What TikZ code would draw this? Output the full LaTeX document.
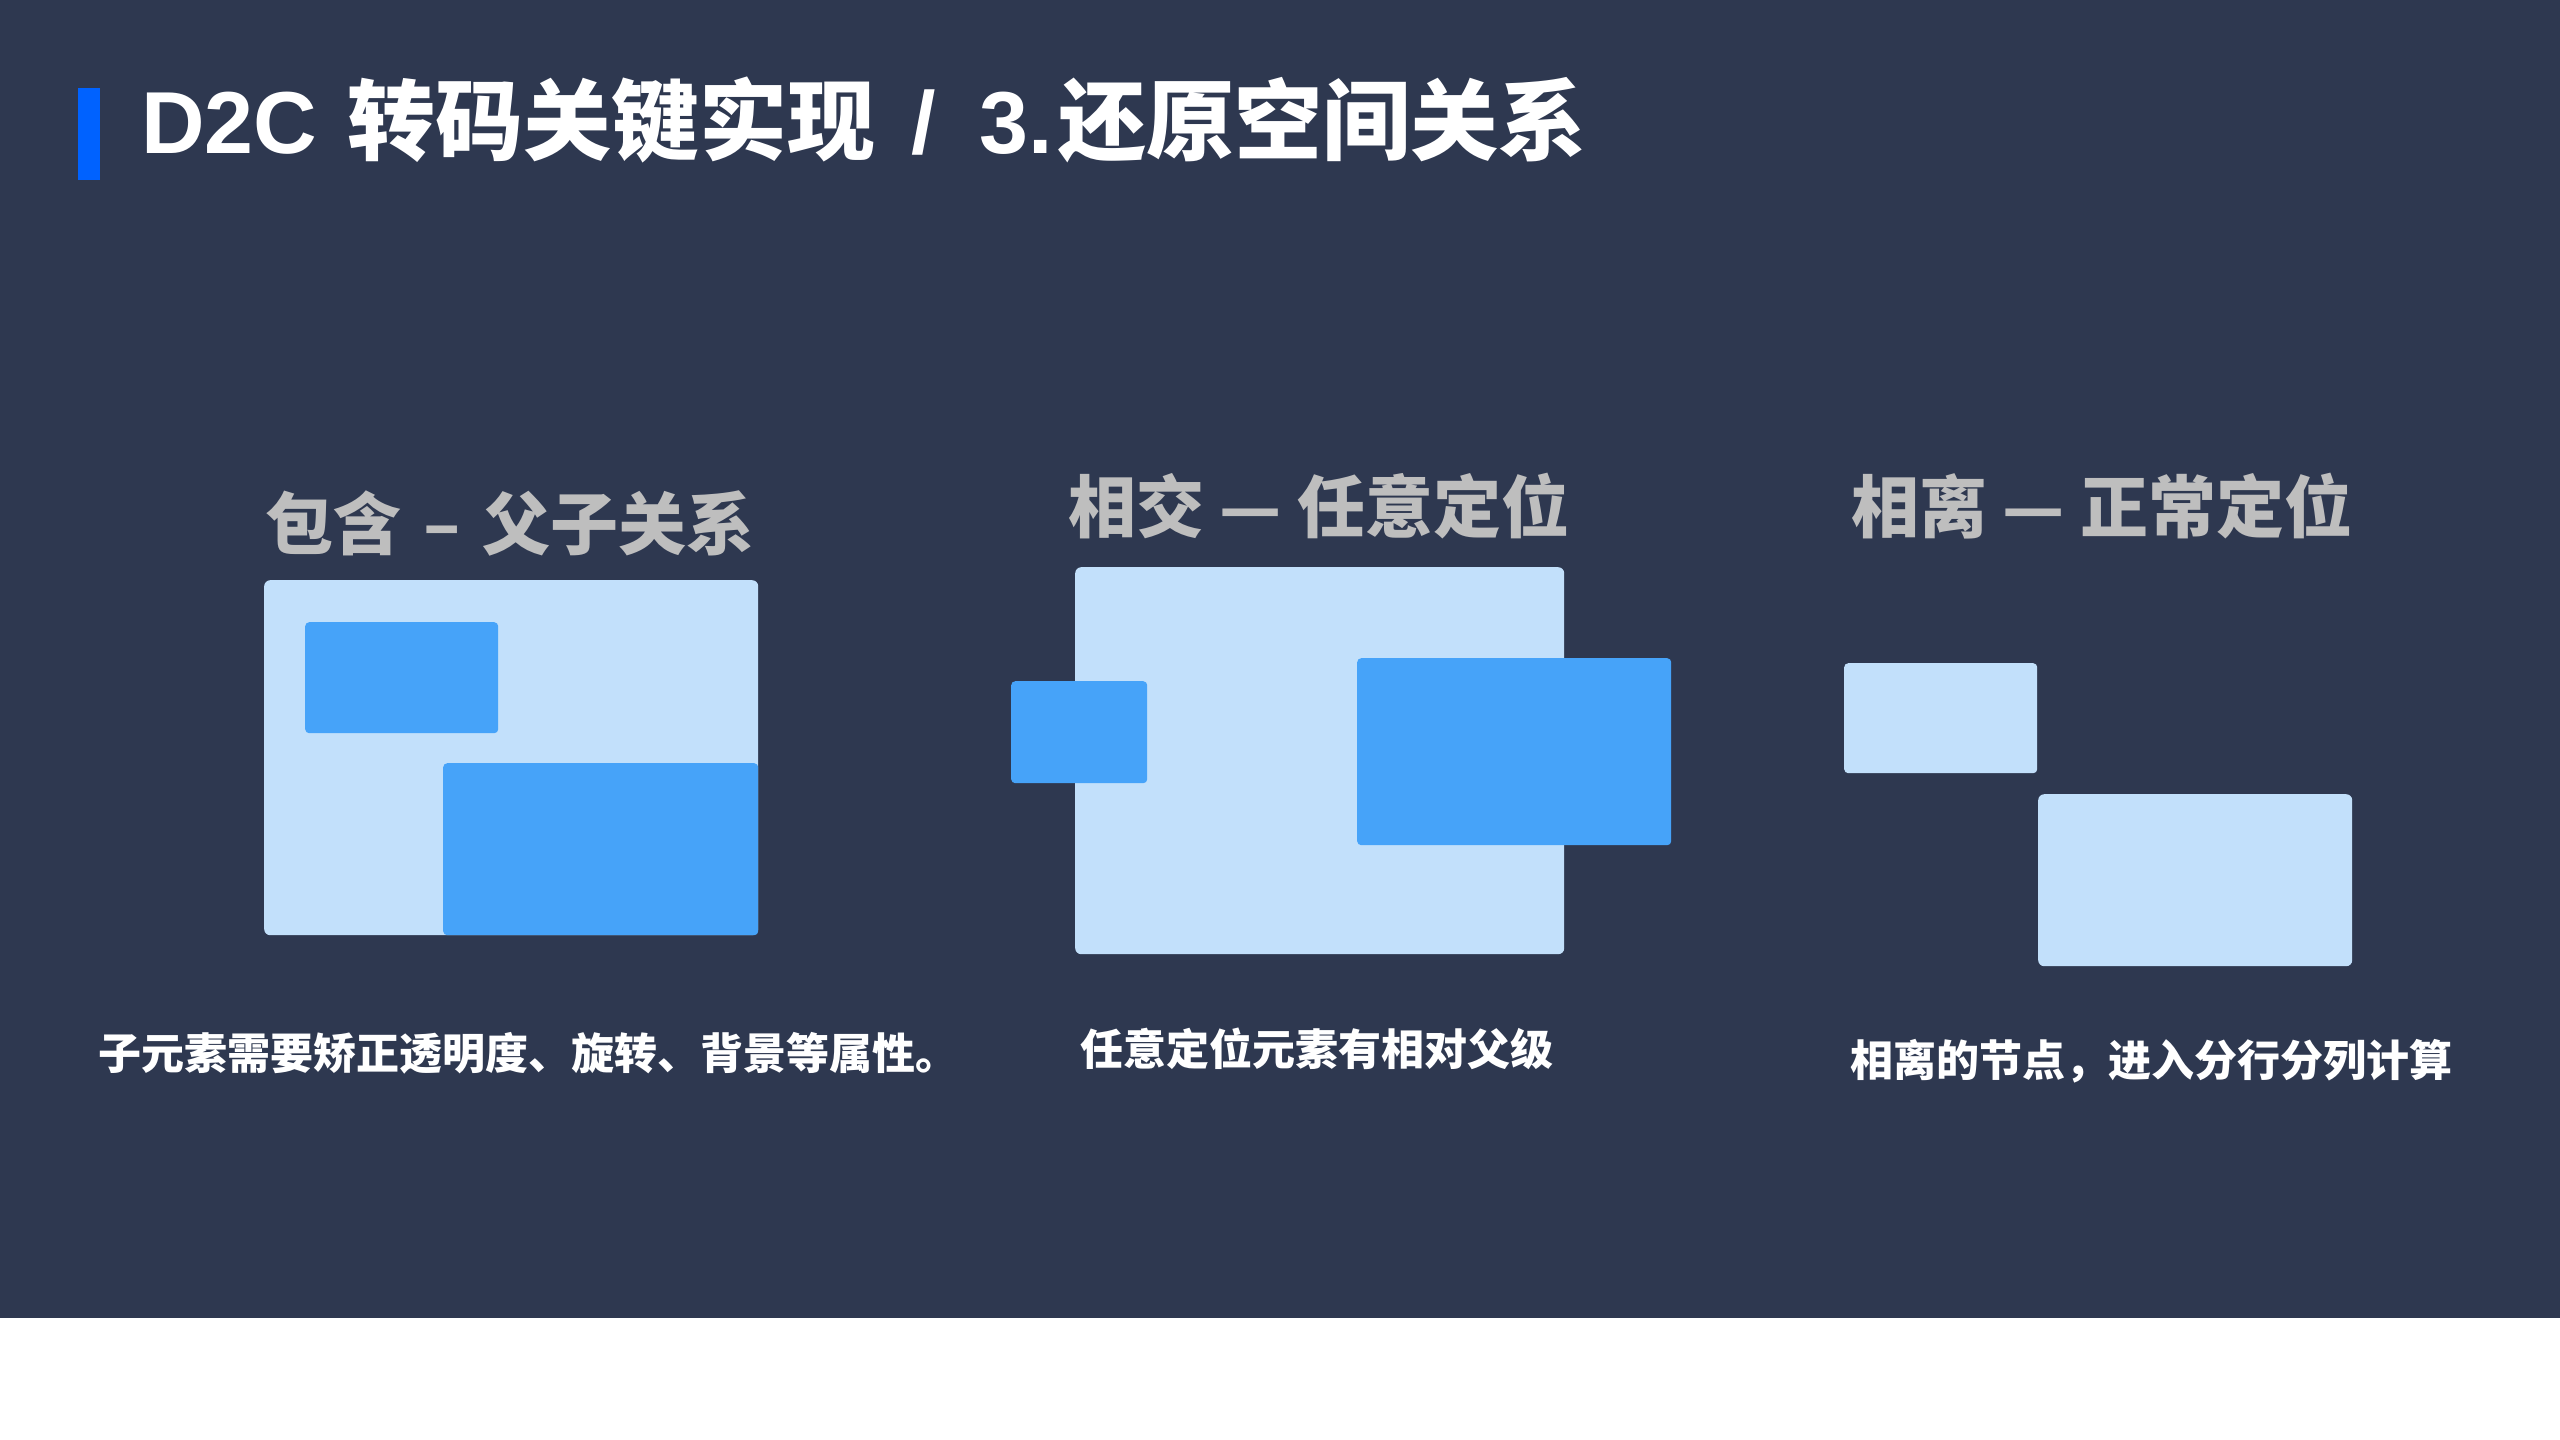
\documentclass[tikz,border=0pt]{standalone}
\usepackage{fontspec}
\setmainfont{Noto Sans CJK SC}
\newfontfamily\latinfont{Liberation Sans}
\usepackage{tikz}
\usetikzlibrary{positioning}

\definecolor{bgdark}{HTML}{2E3850}
\definecolor{barblue}{HTML}{0062FF}
\definecolor{boxlight}{HTML}{C2E0FB}
\definecolor{boxblue}{HTML}{46A3F9}
\definecolor{capgray}{HTML}{BEBEBE}

\begin{document}
\begin{tikzpicture}[x=1pt, y=-1pt,
    parent/.style={fill=boxlight, rounded corners=6pt, anchor=north west, inner sep=0pt},
    child/.style={fill=boxblue, rounded corners=4pt, anchor=north west, inner sep=0pt},
    caption/.style={text=capgray, inner sep=0pt, font=\fontsize{68}{80}\selectfont\bfseries},
    note/.style={text=white, inner sep=0pt, font=\fontsize{43}{50}\selectfont\bfseries}]
  % Fondo
  \fill[white] (0,0) rectangle (2560,1440);
  \useasboundingbox (0,0) rectangle (2560,1440);
  \fill[bgdark] (0,0) rectangle (2560,1318);

  % Titulo
  \fill[barblue] (78,88) rectangle (100,180);
  \node[anchor=base west, inner sep=0pt, text=white, font=\fontsize{88}{106}\selectfont\bfseries] (title) at (141,153)
    {{\latinfont D2C}\hspace{30pt}转码关键实现\hspace{36pt}{\latinfont /}\hspace{44pt}{\latinfont 3.}\hspace{5pt}还原空间关系};

  % Contiene
  \node[caption] (cap1) at (510,523) {包含\hspace{22pt}–\hspace{22pt}父子关系};
  \node[parent, minimum width=494pt, minimum height=355pt] (p1) at (264,580) {};
  \node[child, minimum width=193pt, minimum height=111pt] (p1a) at (305,622) {};
  \node[child, minimum width=315pt, minimum height=172pt] (p1b) at (443,763) {};
  \node[note] (note1) at (528,1053) {子元素需要矫正透明度、旋转、背景等属性。};

  % Interseca
  \node[caption] (cap2) at (1319,506) {相交 — 任意定位};
  \node[parent, minimum width=489pt, minimum height=387pt] (p2) at (1075,567) {};
  \node[child, minimum width=136pt, minimum height=102pt] (p2a) at (1011,681) {};
  \node[child, minimum width=314pt, minimum height=187pt] (p2b) at (1357,658) {};
  \node[note] (note2) at (1317,1049) {任意定位元素有相对父级};

  % Separados
  \node[caption] (cap3) at (2102,506) {相离 — 正常定位};
  \node[parent, rounded corners=4pt, minimum width=193pt, minimum height=110pt] (p3a) at (1844,663) {};
  \node[parent, minimum width=314pt, minimum height=172pt] (p3b) at (2038,794) {};
  \node[note] (note3) at (2151,1061) {相离的节点，进入分行分列计算};
\end{tikzpicture}
\end{document}
